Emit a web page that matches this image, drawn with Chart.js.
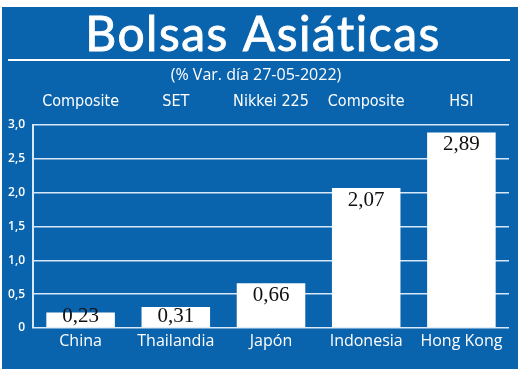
<!DOCTYPE html>
<html>
<head>
<meta charset="utf-8">
<script src="https://cdn.jsdelivr.net/npm/chart.js@4/dist/chart.umd.min.js"></script>
<style>
  html, body { margin: 0; background: #fff; }
  #c { display: block; }
</style>
</head>
<body>
<canvas id="c" width="520" height="373"></canvas>
<script>
const paises = ['China', 'Thailandia', 'Japón', 'Indonesia', 'Hong Kong'];
const indices = ['Composite', 'SET', 'Nikkei 225', 'Composite', 'HSI'];
const variacion = [0.23, 0.31, 0.66, 2.07, 2.89];
const yTicks = [0, 0.5, 1, 1.5, 2, 2.5, 3];
const yTickLabels = ['0', '0,5', '1,0', '1,5', '2,0', '2,5', '3,0'];
const titulo = 'Bolsas Asiáticas';
const subtitulo = '(% Var. día 27-05-2022)';

const AZUL = '#0a63ad';
const LINEA = '#d8e8f6';

const fmt = v => v.toFixed(2).replace('.', ',');

// fondo azul, titulo, subtitulo y linea bajo el titulo
const fondo = {
  id: 'fondo',
  beforeDraw(chart) {
    const ctx = chart.ctx;
    ctx.save();
    ctx.fillStyle = '#fff';
    ctx.fillRect(0, 0, chart.width, chart.height);
    ctx.fillStyle = AZUL;
    ctx.fillRect(2, 7, 516, 362);

    ctx.fillStyle = '#fff';
    ctx.strokeStyle = '#fff';
    ctx.textAlign = 'center';
    ctx.textBaseline = 'alphabetic';
    ctx.font = '48px Lato';
    ctx.letterSpacing = '1.5px'; // sin ligadura "ti"
    ctx.lineWidth = 0.9;
    ctx.fillText(titulo, 263, 51);
    ctx.strokeText(titulo, 263, 51);
    ctx.letterSpacing = '0px';

    ctx.lineWidth = 2;
    ctx.beginPath();
    ctx.moveTo(8, 60);
    ctx.lineTo(510, 60);
    ctx.stroke();

    ctx.font = '16px "Open Sans"';
    ctx.fillText(subtitulo, 256, 80);
    ctx.restore();
  }
};

// valores dentro de cada barra
const valores = {
  id: 'valores',
  afterDatasetsDraw(chart) {
    const ctx = chart.ctx;
    const meta = chart.getDatasetMeta(0);
    ctx.save();
    ctx.fillStyle = '#111';
    ctx.textAlign = 'center';
    ctx.textBaseline = 'alphabetic';
    ctx.font = '21px "Liberation Serif"';
    meta.data.forEach((bar, i) => {
      const y = Math.min(bar.y + 18, bar.base - 5);
      ctx.fillText(fmt(variacion[i]), bar.x, y);
    });
    ctx.restore();
  }
};

new Chart(document.getElementById('c'), {
  type: 'bar',
  data: {
    labels: paises,
    datasets: [{
      data: variacion,
      backgroundColor: '#fff',
      borderWidth: 0,
      barPercentage: 0.72,
      categoryPercentage: 1
    }]
  },
  options: {
    responsive: false,
    animation: false,
    layout: { padding: { left: 0, right: 11, top: 0, bottom: 0 } },
    plugins: { legend: { display: false }, tooltip: { enabled: false } },
    scales: {
      x: {
        position: 'bottom',
        grid: { display: false },
        border: { display: false },
        ticks: { color: '#fff', font: { family: 'Open Sans', size: 16 }, padding: -4, autoSkip: false, maxRotation: 0 },
        afterFit: s => { s.height = 373 - 328; }
      },
      x2: {
        type: 'category',
        labels: indices,
        position: 'top',
        offset: true,
        grid: { display: false },
        border: { display: false },
        ticks: { color: '#fff', font: { family: '"DejaVu Sans Condensed", "Liberation Sans Narrow", sans-serif', size: 16 }, padding: 6, autoSkip: false, maxRotation: 0 },
        afterFit: s => { s.height = 125; }
      },
      y: {
        min: 0,
        max: 3,
        afterBuildTicks: s => { s.ticks = yTicks.map(v => ({ value: v })); },
        grid: { color: LINEA, lineWidth: 1.5, drawTicks: false },
        border: { display: true, color: LINEA, width: 2 },
        ticks: {
          color: '#fff',
          font: { family: 'Open Sans', size: 12, weight: '600' },
          padding: 8,
          callback: v => yTickLabels[yTicks.indexOf(v)]
        },
        afterFit: s => { s.width = 33; }
      }
    }
  },
  plugins: [fondo, valores]
});
</script>
</body>
</html>
